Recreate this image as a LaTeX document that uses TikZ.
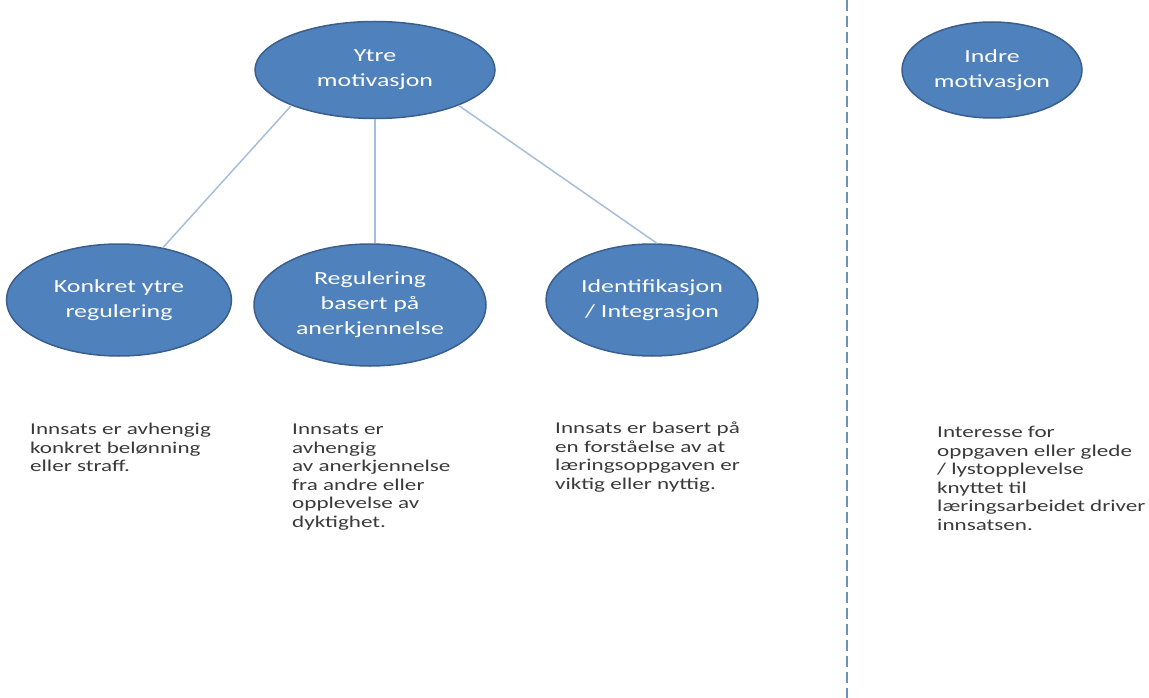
\documentclass[tikz,border=0pt]{standalone}
\usepackage{fontspec}
\setmainfont[FakeStretch=1.4]{Carlito}
\usepackage{xcolor}
\usetikzlibrary{shapes.geometric}

\definecolor{ovalfill}{HTML}{4F81BD}
\definecolor{ovaldraw}{HTML}{3A5F8E}
\definecolor{linkblue}{HTML}{A7BEDB}
\definecolor{splitblue}{HTML}{6E8FBF}
\definecolor{bodygrey}{HTML}{3A3A3A}

\begin{document}
\begin{tikzpicture}[
    x=1pt, y=-1pt,
    oval/.style={ellipse, draw=ovaldraw, line width=1.5pt, fill=ovalfill, inner sep=0pt, align=center,
        text=white, font=\fontsize{18.5}{25}\selectfont},
    note/.style={anchor=north west, inner sep=0pt, align=left, text=bodygrey, font=\fontsize{16.5}{18.5}\selectfont},
    link/.style={draw=linkblue, line width=1.5pt}
]
\useasboundingbox (0,0) rectangle (1149,698);

\node[oval, minimum width=240pt, minimum height=97pt] (ytre) at (375,70) {Ytre\\motivasjon};
\node[oval, minimum width=180pt, minimum height=96pt] (indre) at (992,70) {Indre\\motivasjon};

\node[oval, minimum width=225pt, minimum height=112pt] (konkret) at (119,300) {Konkret ytre\\regulering};
\node[oval, minimum width=232pt, minimum height=122pt] (regulering) at (370,305) {Regulering\\basert på\\anerkjennelse};
\node[oval, minimum width=212pt, minimum height=112pt] (identifikasjon) at (652,300) {Identifikasjon\\/ Integrasjon};

\draw[link] (ytre.203) -- (konkret.50);
\draw[link] (ytre.south) -- (ytre.south |- regulering.north);
\draw[link] (ytre.337) -- (identifikasjon.85);

\coordinate (skilletopp) at (847,0);
\coordinate (skillebunn) at (847,698);
\draw[splitblue, line width=1.5pt, dash pattern=on 11pt off 5pt] (skilletopp) -- (skillebunn);

\node[note] (konkrettekst) at (30,423) {Innsats er avhengig\\konkret belønning\\eller straff.};
\node[note] (reguleringtekst) at (292,424) {Innsats er\\avhengig\\av anerkjennelse\\fra andre eller\\opplevelse av\\dyktighet.};
\node[note] (identifikasjontekst) at (555,422) {Innsats er basert på\\en forståelse av at\\læringsoppgaven er\\viktig eller nyttig.};
\node[note] (indretekst) at (937,426) {Interesse for\\oppgaven eller glede\\/ lystopplevelse\\knyttet til\\læringsarbeidet driver\\innsatsen.};
\end{tikzpicture}
\end{document}
